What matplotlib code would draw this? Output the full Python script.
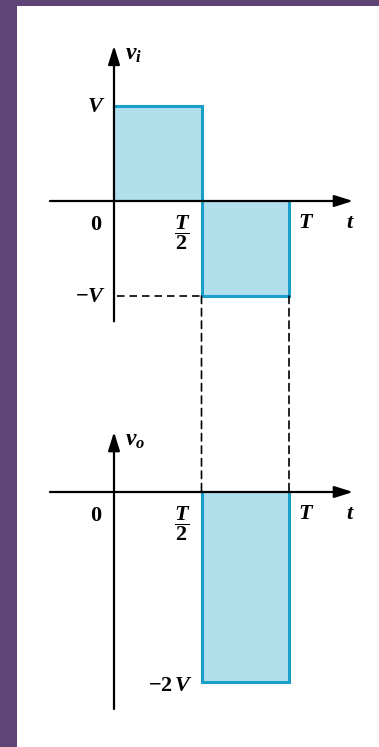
import matplotlib
matplotlib.use('Agg')
import matplotlib.pyplot as plt
from matplotlib.patches import Rectangle, ConnectionPatch

plt.rcParams['mathtext.fontset'] = 'custom'
plt.rcParams['mathtext.rm'] = 'Liberation Serif:bold'
plt.rcParams['mathtext.it'] = 'Liberation Serif:italic:bold'
plt.rcParams['font.family'] = 'Liberation Serif'
plt.rcParams['font.weight'] = 'bold'

# one period of the square wave, T = 1 and V = 1
T = 1.0
V = 1.0
t_edges = [0, T / 2, T]
vi_levels = [V, -V]          # input: +V then -V
vo_levels = [0, -2 * V]      # output: 0 then -2V
x_ticklabels = ['0', r'$\dfrac{T}{2}$', r'$T$']

line_c = '#19a0ca'
fill_c = '#b2dfec'
W, H = 379, 747
px_t = 175.0    # pixels per T
px_v = 95.0     # pixels per V
fs = 16

fig = plt.figure(figsize=(W / 100, H / 100), dpi=100)
fig.patch.set_facecolor('#5f4577')
fig.patches.append(Rectangle((17 / W, 0), 1, (H - 6) / H, transform=fig.transFigure,
                             facecolor='white', edgecolor='none', zorder=-10))

xlim = (-114 / px_t, (W - 114) / px_t)
ax_i = fig.add_axes([0, 347 / H, 1, 400 / H])
ax_i.set_xlim(xlim)
ax_i.set_ylim(201 / px_v - 400 / px_v, 201 / px_v)
ax_o = fig.add_axes([0, 0, 1, 347 / H])
ax_o.set_xlim(xlim)
ax_o.set_ylim(92 / px_v - 347 / px_v, 92 / px_v)
for ax in (ax_i, ax_o):
    ax.axis('off')
    ax.patch.set_alpha(0)

arrow = dict(arrowstyle='-|>,head_length=0.7,head_width=0.22', lw=1.6, color='black',
             shrinkA=0, shrinkB=0, mutation_scale=16)


def draw_axes(ax, ylo, yhi, name):
    ax.annotate('', xy=(1.366 * T, 0), xytext=(-0.366 * T, 0), arrowprops=arrow, zorder=5)
    ax.annotate('', xy=(0, yhi), xytext=(0, ylo), arrowprops=arrow, zorder=5)
    ax.annotate(name, xy=(0, yhi), xytext=(8, -6), textcoords='offset points',
                fontsize=17, ha='left', va='center')
    ax.annotate(x_ticklabels[0], xy=(0, 0), xytext=(-13, -17), textcoords='offset points',
                fontsize=fs, ha='center', va='center')
    ax.annotate(x_ticklabels[1], xy=(t_edges[1], 0), xytext=(-14, -23), textcoords='offset points',
                fontsize=fs, ha='center', va='center')
    ax.annotate(x_ticklabels[2], xy=(t_edges[2], 0), xytext=(12, -16), textcoords='offset points',
                fontsize=fs, ha='center', va='center')
    ax.annotate(r'$t$', xy=(1.366 * T, 0), xytext=(-2, -16), textcoords='offset points',
                fontsize=fs, ha='center', va='center')


# input waveform
for k in range(2):
    ax_i.add_patch(Rectangle((t_edges[k], 0), t_edges[k + 1] - t_edges[k], vi_levels[k],
                             facecolor=fill_c, edgecolor='none', zorder=1))
ax_i.plot([0, t_edges[1], t_edges[1], t_edges[2], t_edges[2]],
          [vi_levels[0], vi_levels[0], vi_levels[1], vi_levels[1], 0],
          color=line_c, lw=2.2, solid_joinstyle='miter', zorder=3)
draw_axes(ax_i, -1.267 * V, 1.634 * V, r'$v_i$')
ax_i.annotate(r'$V$', xy=(0, V), xytext=(-13, -1), textcoords='offset points',
              fontsize=fs, ha='center', va='center')
ax_i.annotate(r'$-V$', xy=(0, -V), xytext=(-6, -1), textcoords='offset points',
              fontsize=fs, ha='right', va='center')
ax_i.plot([3 / px_t, t_edges[1]], [-V, -V], color='black', lw=1.2, dashes=(4.5, 3), zorder=2)

# output waveform
ax_o.add_patch(Rectangle((t_edges[1], 0), t_edges[2] - t_edges[1], vo_levels[1],
                         facecolor=fill_c, edgecolor='none', zorder=1))
ax_o.plot([t_edges[1], t_edges[1], t_edges[2], t_edges[2]],
          [vo_levels[0], vo_levels[1], vo_levels[1], vo_levels[0]],
          color=line_c, lw=2.2, solid_joinstyle='miter', zorder=3)
draw_axes(ax_o, -2.284 * V, 0.632 * V, r'$v_o$')
ax_o.annotate(r'$-2\,V$', xy=(t_edges[1], -2 * V), xytext=(-6, -3), textcoords='offset points',
              fontsize=fs, ha='right', va='center')

# projection lines from the input edges down to the output axis
for tk in t_edges[1:]:
    con = ConnectionPatch(xyA=(tk, -V), coordsA=ax_i.transData,
                          xyB=(tk, 0), coordsB=ax_o.transData,
                          color='black', lw=1.2, linestyle=(0, (4.5, 3)), zorder=2)
    fig.add_artist(con)

fig.savefig('out.png', dpi=100, facecolor=fig.get_facecolor())
